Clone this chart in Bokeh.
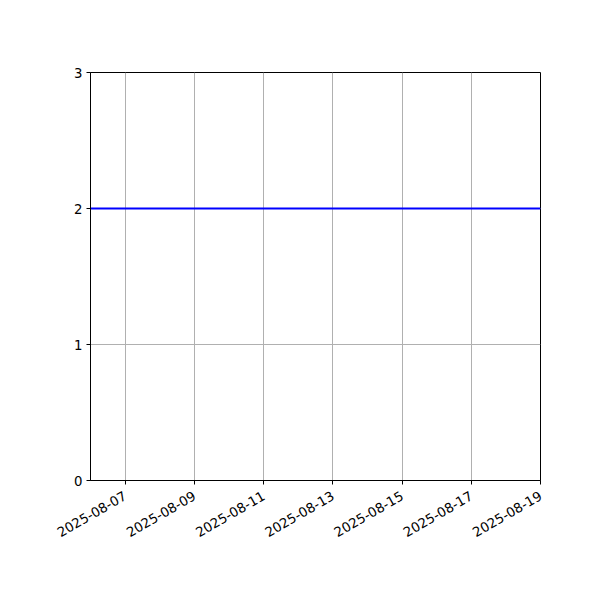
from datetime import datetime
from bokeh.plotting import figure
from bokeh.models import Range1d, FixedTicker, DatetimeTickFormatter
from bokeh.embed import file_html
from bokeh.resources import INLINE
import math

days = [datetime(2025, 8, d) for d in range(6, 20)]
values = [2, 2, 2, 2, 2, 2, 2, 2, 2, 2, 2, 2, 2, 2]
tick_days = [datetime(2025, 8, d) for d in [7, 9, 11, 13, 15, 17, 19]]
y_ticks = [0, 1, 2, 3]

def ms(d):
    return (d - datetime(1970, 1, 1)).total_seconds() * 1000

p = figure(width=584, height=584, output_backend="svg", toolbar_location=None,
           x_axis_type="datetime",
           x_range=Range1d(days[0], days[-1]), y_range=Range1d(0, 3),
           min_border_left=90, min_border_right=44, min_border_top=72, min_border_bottom=104)
p.line(days, values, line_color="#0000ff", line_width=2)

p.xaxis.ticker = FixedTicker(ticks=[ms(d) for d in tick_days])
p.xaxis.formatter = DatetimeTickFormatter(days="%Y-%m-%d", months="%Y-%m-%d", hours="%Y-%m-%d")
p.xaxis.major_label_orientation = math.pi / 6
p.yaxis.ticker = FixedTicker(ticks=y_ticks)

for ax in [p.xaxis, p.yaxis]:
    ax.axis_line_color = "black"
    ax.major_tick_line_color = "black"
    ax.major_tick_in = 0
    ax.major_tick_out = 4
    ax.minor_tick_line_color = None
    ax.major_label_text_font = "DejaVu Sans"
    ax.major_label_text_font_size = "13.3px"
    ax.major_label_text_color = "black"
    ax.major_label_standoff = 4
p.xaxis.major_label_standoff = 10

p.grid.grid_line_color = "#b0b0b0"
p.grid.grid_line_width = 1
p.outline_line_color = "black"
p.outline_line_alpha = 1
p.outline_line_width = 1

open("out.html", "w").write(file_html(p, INLINE))
